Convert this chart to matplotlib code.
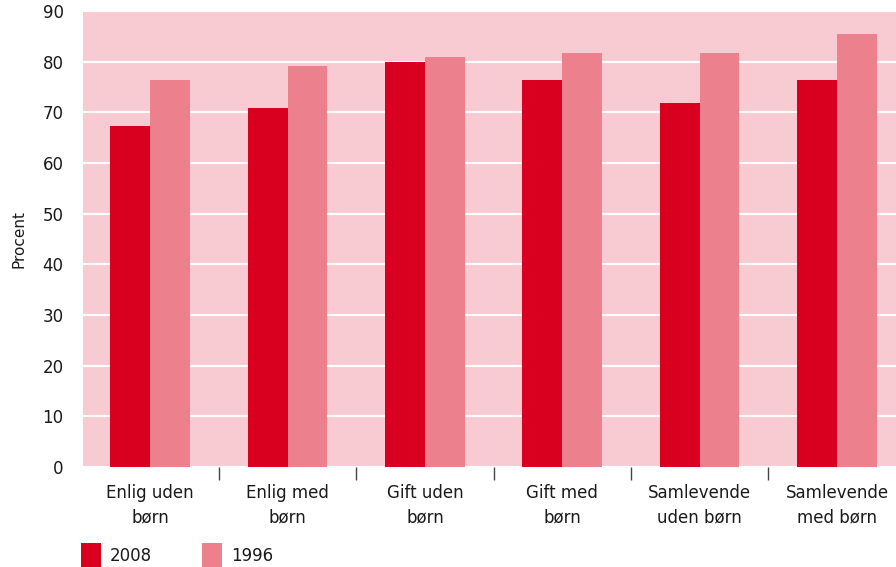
import numpy as np
import matplotlib
matplotlib.use("Agg")
import matplotlib.pyplot as plt

# --- data ---
categories = ["Enlig uden\nbørn", "Enlig med\nbørn", "Gift uden\nbørn",
              "Gift med\nbørn", "Samlevende\nuden børn", "Samlevende\nmed børn"]
values_2008 = [67.3, 70.9, 80.0, 76.4, 71.9, 76.4]
values_1996 = [76.4, 79.1, 80.9, 81.8, 81.8, 85.5]
series_labels = ["2008", "1996"]
y_ticks = [0, 10, 20, 30, 40, 50, 60, 70, 80, 90]

col_2008 = "#d9001f"
col_1996 = "#ec808c"
col_bg = "#f8cbd2"
text_col = "#1a1a1a"

plt.rcParams['font.family'] = ['DejaVu Sans']

fig = plt.figure(figsize=(8.96, 5.67), dpi=100)
ax = fig.add_axes([83 / 896, 100 / 567, 1 - 83 / 896, 456 / 567])
ax.set_facecolor(col_bg)

x = np.arange(len(categories))
w = 0.29
b1 = ax.bar(x - w / 2, values_2008, w, color=col_2008, label=series_labels[0], zorder=3)
b2 = ax.bar(x + w / 2, values_1996, w, color=col_1996, label=series_labels[1], zorder=3)

ax.set_yticks(y_ticks)
ax.set_yticklabels([str(t) for t in y_ticks], fontsize=12, color=text_col)
ax.tick_params(axis="y", length=0, pad=14)
ax.yaxis.grid(True, color="white", linewidth=1.5, zorder=1)
ax.set_axisbelow(True)

# category labels in group centres, tick marks between groups
ax.set_xticks(x[:-1] + 0.5)
ax.set_xticklabels([])
ax.tick_params(axis="x", length=9, width=1, color="#444444", direction="out")
ax.set_xticks(x, minor=True)
ax.set_xticklabels(categories, minor=True, fontsize=12, color=text_col, linespacing=1.5)
ax.tick_params(axis="x", which="minor", length=0, pad=12)

ax.set_ylim(0, 90)
ax.set_xlim(-0.49, 5.43)

for s in ax.spines.values():
    s.set_visible(False)

ax.set_ylabel("Procent", fontsize=11, color=text_col)
ax.yaxis.set_label_coords(-0.07, 0.5)

fig.legend(handles=[b1, b2], labels=series_labels, loc="lower left",
           bbox_to_anchor=(66 / 896, -16 / 567), ncol=2, frameon=False,
           fontsize=12, handlelength=1.2, handleheight=1.9,
           handletextpad=0.55, columnspacing=3.0, labelcolor=text_col)

fig.savefig("out.png", dpi=100)
